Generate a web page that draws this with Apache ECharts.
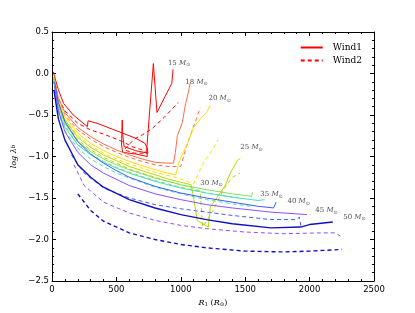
<!DOCTYPE html>
<html><head><meta charset="utf-8">
<script src="https://cdn.jsdelivr.net/npm/echarts@6/dist/echarts.min.js"></script>
<style>html,body{margin:0;padding:0;background:#fff}#c{width:415px;height:313px}</style>
</head><body><div id="c"></div>
<script>
// ---- data: [R1, log lambda_b] ----
const masses = [15, 18, 20, 25, 30, 35, 40, 45, 50];
const xTicks = [0, 500, 1000, 1500, 2000, 2500];
const yTicks = [-2.5, -2.0, -1.5, -1.0, -0.5, 0.0, 0.5];

const m15_wind1 = [[10,0.02],[50,-0.2],[90,-0.36],[165,-0.5],[275,-0.64],[280,-0.57],[350,-0.6],[450,-0.66],[550,-0.72],[650,-0.78],[720,-0.84],[740,-0.9],[745,-0.96],[650,-0.93],[560,-0.88],[550,-0.75],[545,-0.56],[540,-0.85],[548,-0.95],[650,-0.97],[740,-1.0],[735,-0.92],[787,0.12],[815,-0.47],[870,-0.3],[930,-0.12],[940,0.05]];
const m15_wind2 = [[15,-0.05],[50,-0.3],[100,-0.45],[200,-0.6],[300,-0.68],[400,-0.73],[500,-0.79],[560,-0.83],[620,-0.88],[700,-0.92],[740,-0.96],[640,-0.96],[560,-0.92],[600,-0.85],[650,-0.78],[700,-0.74],[780,-0.66],[870,-0.53],[980,-0.35]];
const m18_wind1 = [[15,-0.05],[50,-0.3],[100,-0.47],[200,-0.65],[300,-0.76],[400,-0.85],[500,-0.92],[600,-0.98],[700,-1.03],[800,-1.07],[900,-1.08],[943,-1.08],[958,-0.95],[973,-0.75],[1012,-0.59],[1035,-0.38],[1058,-0.23],[1074,-0.11]];
const m18_wind2 = [[15,-0.06],[50,-0.32],[100,-0.5],[200,-0.68],[300,-0.79],[400,-0.88],[500,-0.95],[600,-1.01],[700,-1.06],[800,-1.1],[900,-1.12],[1000,-1.12],[1040,-0.9],[1080,-0.72],[1120,-0.55],[1151,-0.41]];
const m20_wind1 = [[15,-0.05],[50,-0.33],[100,-0.52],[200,-0.72],[300,-0.84],[400,-0.93],[500,-1.0],[600,-1.06],[700,-1.11],[800,-1.16],[900,-1.2],[960,-1.22],[990,-1.05],[1050,-0.85],[1100,-0.65],[1150,-0.55],[1200,-0.47],[1229,-0.38]];
const m20_wind2 = [[15,-0.06],[50,-0.35],[100,-0.55],[200,-0.75],[300,-0.87],[400,-0.96],[500,-1.03],[600,-1.09],[700,-1.14],[800,-1.19],[900,-1.23],[1000,-1.27],[1098,-1.33],[1175,-1.08],[1229,-0.96],[1291,-0.8]];
const m25_wind1 = [[15,-0.06],[50,-0.36],[100,-0.56],[200,-0.77],[300,-0.89],[400,-0.98],[500,-1.05],[600,-1.12],[700,-1.17],[800,-1.22],[900,-1.27],[1000,-1.31],[1080,-1.34],[1100,-1.5],[1128,-1.77],[1214,-1.85],[1229,-1.61],[1283,-1.49],[1345,-1.35],[1384,-1.2],[1439,-1.05],[1463,-1.02]];
const m25_wind2 = [[15,-0.07],[50,-0.38],[100,-0.58],[200,-0.8],[300,-0.92],[400,-1.01],[500,-1.08],[600,-1.15],[700,-1.2],[800,-1.25],[900,-1.3],[1000,-1.34],[1100,-1.38],[1150,-1.42],[1170,-1.85],[1250,-1.65],[1330,-1.4],[1400,-1.25],[1460,-1.2]];
const m30_wind1 = [[15,-0.08],[50,-0.4],[100,-0.6],[200,-0.82],[300,-0.94],[400,-1.03],[500,-1.1],[600,-1.16],[800,-1.26],[1000,-1.34],[1200,-1.4],[1400,-1.45],[1550,-1.48],[1556,-1.43]];
const m30_wind2 = [[15,-0.09],[50,-0.42],[100,-0.63],[200,-0.85],[300,-0.97],[400,-1.06],[500,-1.13],[600,-1.19],[800,-1.29],[1000,-1.37],[1200,-1.44],[1450,-1.5]];
const m35_wind1 = [[15,-0.1],[50,-0.45],[100,-0.65],[200,-0.86],[300,-0.98],[400,-1.07],[500,-1.14],[600,-1.2],[800,-1.3],[1000,-1.38],[1200,-1.44],[1400,-1.49],[1600,-1.53],[1650,-1.52]];
const m35_wind2 = [[15,-0.11],[50,-0.48],[100,-0.69],[200,-0.9],[300,-1.03],[400,-1.12],[500,-1.2],[600,-1.26],[800,-1.37],[1000,-1.45],[1200,-1.52],[1400,-1.57],[1540,-1.6]];
const m40_wind1 = [[20,-0.1],[50,-0.35],[100,-0.58],[200,-0.82],[300,-0.97],[400,-1.08],[500,-1.17],[600,-1.25],[800,-1.36],[1000,-1.44],[1200,-1.5],[1400,-1.55],[1600,-1.6],[1720,-1.62],[1740,-1.55]];
const m40_wind2 = [[150,-0.98],[250,-1.2],[400,-1.38],[600,-1.5],[800,-1.58],[1000,-1.63],[1200,-1.67],[1400,-1.71],[1700,-1.76],[1900,-1.76],[1920,-1.73],[1935,-1.86]];
const m45_wind1 = [[20,-0.15],[50,-0.45],[100,-0.7],[200,-0.95],[300,-1.1],[400,-1.2],[600,-1.35],[800,-1.45],[1000,-1.52],[1200,-1.58],[1400,-1.62],[1700,-1.67],[1980,-1.7]];
const m45_wind2 = [[170,-1.1],[250,-1.35],[400,-1.55],[600,-1.68],[800,-1.77],[1000,-1.83],[1200,-1.87],[1500,-1.91],[1800,-1.93],[2100,-1.92],[2200,-1.92],[2240,-1.96]];
const m50_wind1 = [[15,-0.2],[50,-0.55],[100,-0.8],[200,-1.1],[300,-1.25],[400,-1.37],[600,-1.52],[800,-1.62],[1000,-1.7],[1200,-1.76],[1400,-1.81],[1700,-1.86],[1930,-1.85],[2000,-1.82],[2180,-1.79]];
const m50_wind2 = [[200,-1.45],[300,-1.65],[400,-1.78],[600,-1.92],[800,-2.0],[1000,-2.06],[1200,-2.1],[1500,-2.14],[1800,-2.15],[2000,-2.14],[2250,-2.12]];

const massColors = ['#ff0000','#ff6a4a','#ffdd00','#b8d800','#7fe05a','#40e0c0','#3a5cff','#8a50ff','#1010c0'];
const wind1 = [m15_wind1,m18_wind1,m20_wind1,m25_wind1,m30_wind1,m35_wind1,m40_wind1,m45_wind1,m50_wind1];
const wind2 = [m15_wind2,m18_wind2,m20_wind2,m25_wind2,m30_wind2,m35_wind2,m40_wind2,m45_wind2,m50_wind2];
// label anchor positions (data coords)
const labelPos = [[900,0.13],[1035,-0.1],[1215,-0.3],[1462,-0.89],[1151,-1.32],[1617,-1.46],[1828,-1.54],[2044,-1.65],[2261,-1.73]];

const chart = echarts.init(document.getElementById('c'));
const series = [];
masses.forEach((m,i)=>{
  series.push({type:'line', name: i===0?'Wind1':'w1_'+m, data: wind1[i], showSymbol:false, symbol:'none',
    lineStyle:{color:massColors[i], width: i===8?1.4:1}, itemStyle:{color:massColors[i]}, z:3});
  series.push({type:'line', name: i===0?'Wind2':'w2_'+m, data: wind2[i], showSymbol:false, symbol:'none',
    lineStyle:{color:massColors[i], width: i===8?1.4:1, type:[4,3]}, itemStyle:{color:massColors[i]}, z:2});
});
series.push({type:'scatter', data: labelPos.map((p,i)=>[p[0],p[1],masses[i]]), symbolSize:0, silent:true, clip:false,
  label:{show:true, position:'right', distance:0, formatter:p=>'{n|'+p.value[2]+' }{m|M}{s|⊙}',
    rich:{n:{fontFamily:'DejaVu Serif',fontSize:7,color:'#222'},m:{fontFamily:'DejaVu Serif',fontStyle:'italic',fontSize:7,color:'#222'},s:{fontFamily:'DejaVu Sans',fontSize:5,color:'#222',verticalAlign:'bottom',padding:[4,0,0,0]}}}});

const axisCommon = {axisLine:{onZero:false,lineStyle:{color:'#000',width:1}}, splitLine:{show:false},
  axisTick:{inside:true,length:4,lineStyle:{color:'#000'}}, minorTick:{show:true,splitNumber:5,length:2,lineStyle:{color:'#000'}}};
chart.setOption({
  animation:false,
  grid:{left:52,right:41,top:32,bottom:32},
  legend:{data:['Wind1','Wind2'], right:48, top:38, orient:'vertical', itemWidth:22, itemHeight:8, itemGap:4,
    itemStyle:{opacity:0},
    textStyle:{fontFamily:'DejaVu Serif',fontSize:9,color:'#000',padding:[0,0,0,5]}},
  xAxis:[Object.assign({type:'value',min:xTicks[0],max:xTicks[xTicks.length-1],interval:500,
     axisLabel:{fontFamily:'DejaVu Sans',fontSize:8.5,color:'#000',margin:4,formatter:v=>String(v)},
     name:'{i|R}{s|1} ({i|R}{s|⊙})', nameLocation:'middle', nameGap:13,
     nameTextStyle:{fontFamily:'DejaVu Serif',fontSize:8,color:'#000',rich:{i:{fontStyle:'italic',fontFamily:'DejaVu Serif',fontSize:8},s:{fontSize:5.5,fontFamily:'DejaVu Serif',verticalAlign:'bottom',padding:[4,0,0,0]}}}},axisCommon),
    Object.assign({type:'value',position:'top',min:0,max:2500,interval:500,axisLabel:{show:false}},axisCommon)],
  yAxis:[Object.assign({type:'value',min:yTicks[0],max:yTicks[yTicks.length-1],interval:0.5,
     axisLabel:{fontFamily:'DejaVu Sans',fontSize:8.5,color:'#000',margin:3,formatter:v=>v.toFixed(1).replace('-','−')},
     name:'{i|log λ}{s|b}', nameLocation:'middle', nameGap:22, nameRotate:90,
     nameTextStyle:{fontFamily:'DejaVu Serif',fontSize:8,color:'#000',rich:{i:{fontStyle:'italic',fontFamily:'DejaVu Serif',fontSize:8},s:{fontSize:5.5,fontFamily:'DejaVu Serif',fontStyle:'italic'}}}},axisCommon),
    Object.assign({type:'value',position:'right',min:-2.5,max:0.5,interval:0.5,axisLabel:{show:false}},axisCommon)],
  series: series
});
</script></body></html>
